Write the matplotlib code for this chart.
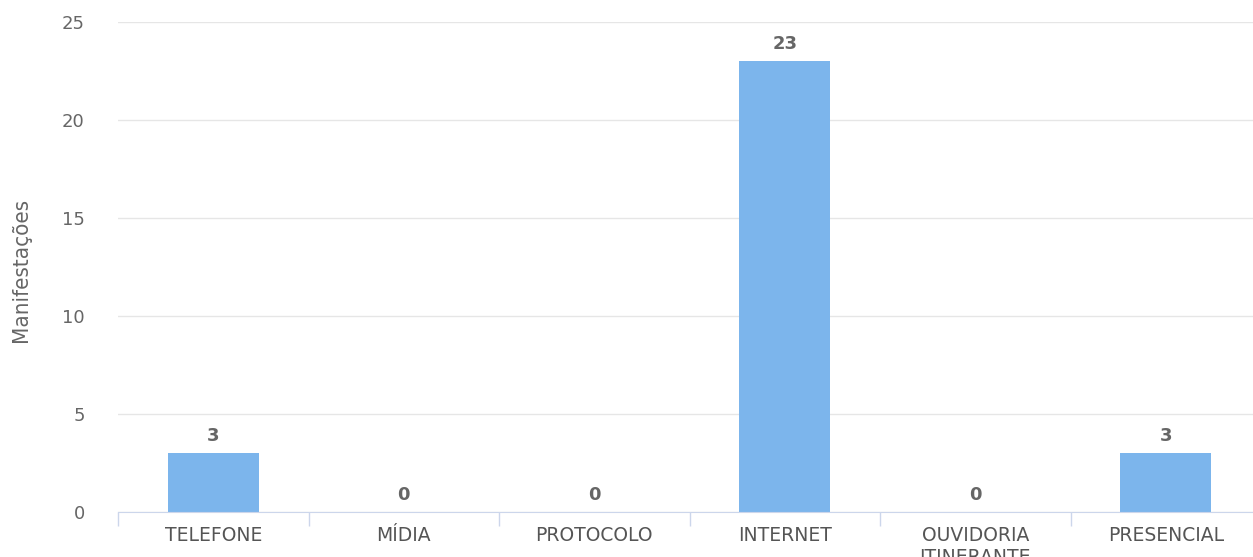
import matplotlib
matplotlib.use("Agg")
import matplotlib.pyplot as plt
import numpy as np

# Data
categorias = ["TELEFONE", "MÍDIA", "PROTOCOLO", "INTERNET", "OUVIDORIA\nITINERANTE", "PRESENCIAL"]
manifestacoes = [3, 0, 0, 23, 0, 3]
y_ticks = [0, 5, 10, 15, 20, 25]

plt.rcParams['font.family'] = ['DejaVu Sans']

fig = plt.figure(figsize=(12.53, 5.57), dpi=100)
ax = fig.add_axes([118/1253, 1 - 512/557, 1 - 118/1253, 490/557])

x = np.arange(len(categorias))
bars = ax.bar(x, manifestacoes, width=0.48, color="#7cb5ec", zorder=3)

# Data labels
for xi, v in zip(x, manifestacoes):
    ax.annotate(str(v), (xi, v), xytext=(0, 6), textcoords="offset points",
                ha="center", va="bottom", fontsize=13, fontweight="bold", color="#666666")

ax.set_yticks(y_ticks)
ax.set_yticklabels([str(t) for t in y_ticks], color="#666666", fontsize=13)
ax.tick_params(axis="y", length=0, pad=24)

ax.set_xticks(x)
ax.set_xticklabels(categorias, color="#555555", fontsize=13.5, va="top")
ax.tick_params(axis="x", which="major", length=0, pad=10)
ax.set_xticks(np.arange(-0.5, 6.5, 1), minor=True)
ax.tick_params(axis="x", which="minor", length=10, width=1, color="#ccd6eb")

# limits after ticks (set_xticks can widen the view)
ax.set_ylim(0, 25)
ax.set_xlim(-0.5, 5.5 - 8/190.5)

ax.grid(axis="y", color="#e6e6e6", linewidth=1, zorder=0)
for s in ["top", "right", "left"]:
    ax.spines[s].set_visible(False)
ax.spines["bottom"].set_color("#ccd6eb")
ax.spines["bottom"].set_zorder(4)

fig.text(21/1253, 1 - 270/557, "Manifestações", rotation=90, ha="center", va="center",
         color="#666666", fontsize=16, family="DejaVu Sans", stretch="condensed")

fig.savefig("out.png", dpi=100)
